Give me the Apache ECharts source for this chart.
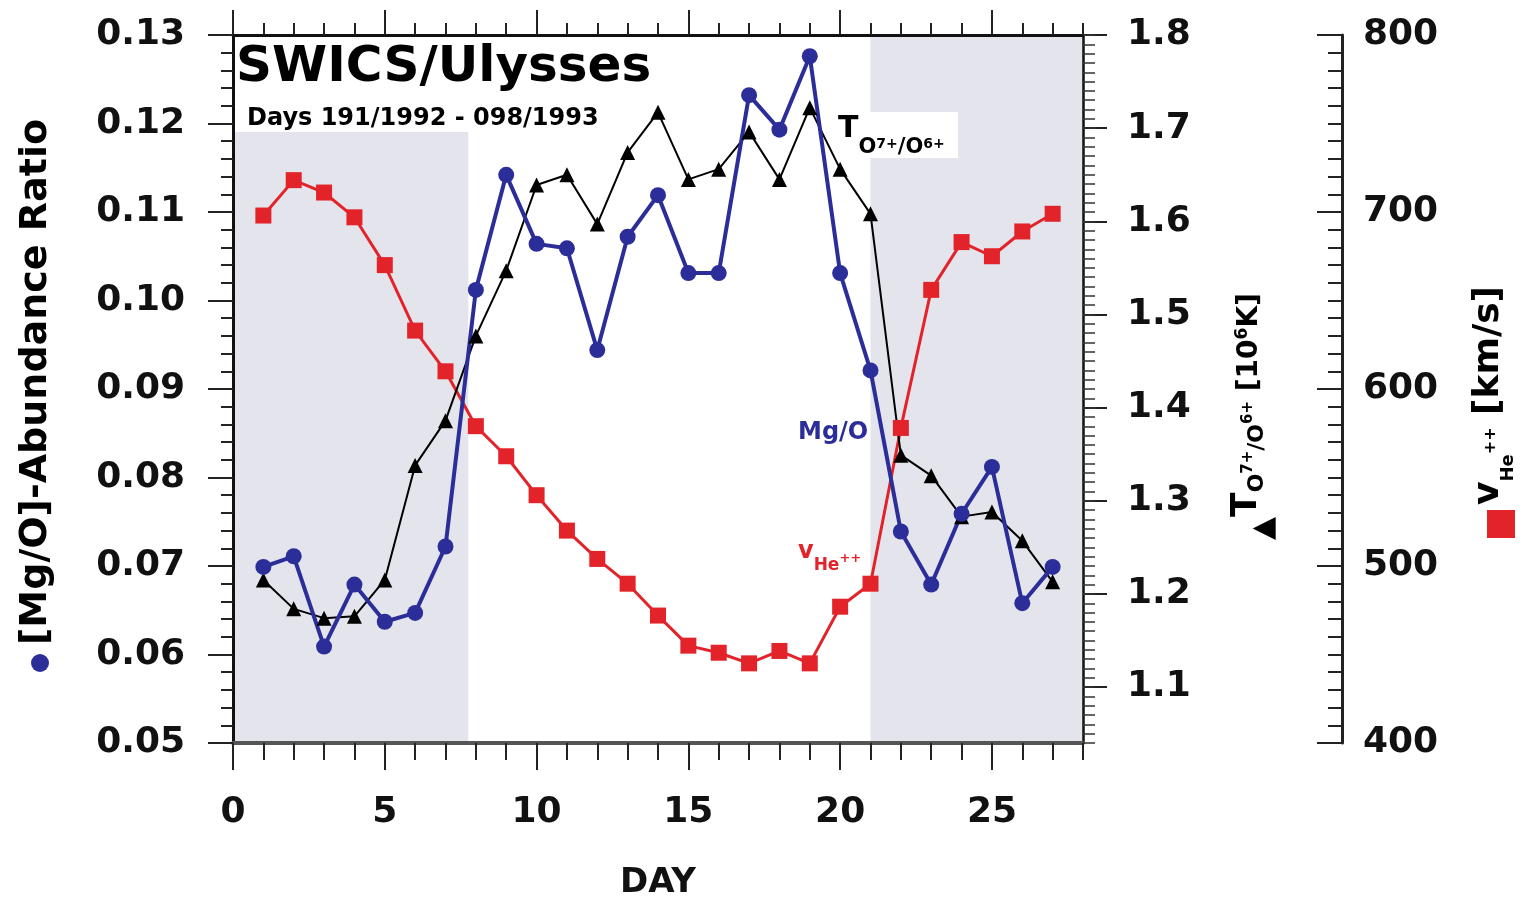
<!DOCTYPE html>
<html>
<head>
<meta charset="utf-8">
<script src="https://cdn.jsdelivr.net/npm/echarts@6/dist/echarts.min.js"></script>
<style>
  html, body { margin: 0; padding: 0; background: #fff; }
  #chart { width: 1527px; height: 897px; }
</style>
</head>
<body>
<div id="chart"></div>
<script>
// SWICS/Ulysses: Mg/O abundance, O7+/O6+ freeze-in temperature and He++ speed over 27 days
const days = [1, 2, 3, 4, 5, 6, 7, 8, 9, 10, 11, 12, 13, 14, 15, 16, 17, 18, 19, 20, 21, 22, 23, 24, 25, 26, 27];
const mgO = [0.0699, 0.0711, 0.0609, 0.0679, 0.0637, 0.0647, 0.0722, 0.1012, 0.1142, 0.1064, 0.1059, 0.0944, 0.1072, 0.1119,
             0.1031, 0.1031, 0.1232, 0.1193, 0.1276, 0.1031, 0.0921, 0.0739, 0.0679, 0.0759, 0.0812, 0.0658, 0.0699];
const tempO = [1.215, 1.184, 1.174, 1.176, 1.215, 1.338, 1.386, 1.477, 1.547, 1.639, 1.650, 1.597, 1.674, 1.717,
               1.645, 1.656, 1.696, 1.645, 1.722, 1.656, 1.608, 1.349, 1.327, 1.283, 1.288, 1.257, 1.213];
const speedHe = [698, 718, 711, 697, 670, 633, 610, 579, 562, 540, 520, 504, 490, 472,
                 455, 451, 445, 452, 445, 477, 490, 578, 656, 683, 675, 689, 699];

// shaded intervals (fast wind) in days
const shadeBands = [[0, 7.75], [21, 28]];

// tick labels
const dayLabels = [0, 5, 10, 15, 20, 25];
const tempLabels = [1.1, 1.2, 1.3, 1.4, 1.5, 1.6, 1.7, 1.8];

const FONT = '"DejaVu Sans", sans-serif';
const BLUE = '#2b2e98';
const RED = '#e3232a';
const SHADE = '#e4e5ec';

const measureCtx = document.createElement('canvas').getContext('2d');

// A run of text pieces laid side by side along a shared baseline (dy shifts for sub/superscripts)
function textRun(x, y, rotated, parts, z) {
  let cx = 0;
  const children = parts.map(p => {
    const font = 'bold ' + p.size + 'px ' + FONT;
    measureCtx.font = font;
    const w = measureCtx.measureText(p.text).width;
    const el = {
      type: 'text', x: cx, y: (p.dy || 0) - 0.36 * p.size, z: z || 10,
      style: {
        text: p.text, font: font, fill: p.color || '#000',
        align: 'left', verticalAlign: 'middle', textAlign: 'left', textVerticalAlign: 'middle'
      }
    };
    cx += w;
    return el;
  });
  return { type: 'group', x: x, y: y, rotation: rotated ? Math.PI / 2 : 0, z: z || 10, children: children };
}

const labelStyle = { fontFamily: FONT, fontWeight: 'bold', fontSize: 36, color: '#111' };
const tickStyle = { color: '#222', width: 2 };
const noLine = { show: false, onZero: false };

const chart = echarts.init(document.getElementById('chart'), null, { renderer: 'canvas' });

const option = {
  animation: false,
  backgroundColor: '#fff',
  textStyle: { fontFamily: FONT },
  grid: { left: 233, right: 444, top: 35, bottom: 154, containLabel: false, outerBoundsMode: 'none' },
  xAxis: [
    { // bottom, labelled
      type: 'value', position: 'bottom', min: 0, max: 28, z: 6,
      axisLine: { show: true, onZero: false, lineStyle: { color: '#555', width: 4 } },
      axisTick: { show: true, customValues: dayLabels, length: 27, lineStyle: tickStyle },
      axisLabel: Object.assign({ customValues: dayLabels, margin: 52 }, labelStyle),
      splitLine: { show: false },
      name: 'DAY', nameLocation: 'middle', nameGap: 123,
      nameTextStyle: { fontFamily: FONT, fontWeight: 'bold', fontSize: 34, color: '#111' }
    },
    { // bottom, daily minor ticks
      type: 'value', position: 'bottom', min: 0, max: 28, interval: 1, z: 6,
      axisLine: noLine,
      axisTick: { show: true, length: 17, lineStyle: tickStyle },
      axisLabel: { show: false }, splitLine: { show: false }
    },
    { // top
      type: 'value', position: 'top', min: 0, max: 28, z: 6,
      axisLine: { show: true, onZero: false, lineStyle: { color: '#111', width: 3 } },
      axisTick: { show: true, customValues: dayLabels, length: 25, lineStyle: tickStyle },
      axisLabel: { show: false }, splitLine: { show: false }
    },
    {
      type: 'value', position: 'top', min: 0, max: 28, interval: 1, z: 6,
      axisLine: noLine,
      axisTick: { show: true, length: 12, lineStyle: tickStyle },
      axisLabel: { show: false }, splitLine: { show: false }
    }
  ],
  yAxis: [
    { // 0: Mg/O ratio
      type: 'value', position: 'left', min: 0.05, max: 0.13, interval: 0.01, z: 6,
      axisLine: { show: true, onZero: false, lineStyle: { color: '#111', width: 3 } },
      axisTick: { show: true, length: 25, lineStyle: tickStyle },
      axisLabel: Object.assign({ margin: 48, formatter: v => v.toFixed(2) }, labelStyle),
      splitLine: { show: false }
    },
    { // 1: Mg/O minor ticks
      type: 'value', position: 'left', min: 0.05, max: 0.13, interval: 0.002, z: 6,
      axisLine: noLine,
      axisTick: { show: true, length: 12, lineStyle: tickStyle },
      axisLabel: { show: false }, splitLine: { show: false }
    },
    { // 2: O7+/O6+ temperature
      type: 'value', position: 'right', min: 1.04, max: 1.8, z: 6,
      axisLine: { show: true, onZero: false, lineStyle: { color: '#111', width: 2.5 } },
      axisTick: { show: true, customValues: tempLabels, length: 24, lineStyle: tickStyle },
      axisLabel: Object.assign({ customValues: tempLabels, margin: 44, formatter: v => v.toFixed(1) }, labelStyle),
      splitLine: { show: false }
    },
    { // 3: temperature minor ticks
      type: 'value', position: 'right', min: 1.04, max: 1.8, interval: 0.01, z: 6,
      axisLine: noLine,
      axisTick: { show: true, length: 12, lineStyle: { color: '#333', width: 1.5 } },
      axisLabel: { show: false }, splitLine: { show: false }
    },
    { // 4: He++ speed
      type: 'value', position: 'right', offset: 259, min: 400, max: 800, interval: 100, z: 6,
      axisLine: { show: true, onZero: false, lineStyle: { color: '#222', width: 3 } },
      axisTick: { show: true, inside: true, length: 25, lineStyle: tickStyle },
      axisLabel: Object.assign({ margin: 21 }, labelStyle),
      splitLine: { show: false }
    },
    { // 5: speed minor ticks
      type: 'value', position: 'right', offset: 259, min: 400, max: 800, interval: 10, z: 6,
      axisLine: noLine,
      axisTick: { show: true, inside: true, length: 14, lineStyle: tickStyle },
      axisLabel: { show: false }, splitLine: { show: false }
    }
  ],
  series: [
    {
      name: 'shade', type: 'line', xAxisIndex: 0, yAxisIndex: 0, data: [], z: 1, silent: true,
      markArea: {
        silent: true,
        itemStyle: { color: SHADE },
        data: shadeBands.map(b => [{ xAxis: b[0] }, { xAxis: b[1] }])
      }
    },
    {
      name: 'vHe++', type: 'line', xAxisIndex: 0, yAxisIndex: 4, z: 5,
      data: days.map((d, i) => [d, speedHe[i]]),
      symbol: 'rect', symbolSize: 16,
      itemStyle: { color: RED }, lineStyle: { color: RED, width: 3 }
    },
    {
      name: 'T O7+/O6+', type: 'line', xAxisIndex: 0, yAxisIndex: 2, z: 5,
      data: days.map((d, i) => [d, tempO[i]]),
      symbol: 'triangle', symbolSize: 15,
      itemStyle: { color: '#000' }, lineStyle: { color: '#000', width: 2 }
    },
    {
      name: 'Mg/O', type: 'line', xAxisIndex: 0, yAxisIndex: 0, z: 5,
      data: days.map((d, i) => [d, mgO[i]]),
      symbol: 'circle', symbolSize: 16,
      itemStyle: { color: BLUE }, lineStyle: { color: BLUE, width: 4 }
    }
  ],
  graphic: [
    // white panels behind the title and the temperature annotation
    { type: 'rect', z: 3, shape: { x: 234, y: 37, width: 404, height: 95 }, style: { fill: '#fff' } },
    { type: 'rect', z: 3, shape: { x: 833, y: 112, width: 125, height: 46 }, style: { fill: '#fff' } },

    textRun(236, 86, false, [{ text: 'SWICS/Ulysses', size: 50 }]),
    textRun(247, 127, false, [{ text: 'Days 191/1992 - 098/1993', size: 24 }]),

    // in-plot series annotations
    textRun(838, 140, false, [
      { text: 'T', size: 30 },
      { text: 'O', size: 21, dy: 15 },
      { text: '7+', size: 14, dy: 9 },
      { text: '/O', size: 21, dy: 15 },
      { text: '6+', size: 14, dy: 9 }
    ]),
    textRun(798, 441, false, [{ text: 'Mg/O', size: 24, color: BLUE }]),
    textRun(798, 560, false, [
      { text: 'v', size: 24, color: RED },
      { text: 'He', size: 17, dy: 12, color: RED },
      { text: '++', size: 13, dy: 3, color: RED }
    ]),

    // left axis title with its marker
    { type: 'circle', z: 10, shape: { cx: 40, cy: 663, r: 9 }, style: { fill: BLUE } },
    textRun(50, 645, true, [{ text: '[Mg/O]-Abundance Ratio', size: 38 }]),

    // temperature axis title
    textRun(1260, 540, true, [
      { text: '\u25B2', size: 30, dy: 15 },
      { text: 'T', size: 36 },
      { text: 'O', size: 22, dy: 5 },
      { text: '7+', size: 15, dy: -6 },
      { text: '/O', size: 22, dy: 5 },
      { text: '6+', size: 15, dy: -6 },
      { text: ' [10', size: 28 },
      { text: '6', size: 17, dy: -11 },
      { text: 'K]', size: 28 }
    ]),

    // speed axis title with its marker
    { type: 'rect', z: 10, shape: { x: 1487, y: 510, width: 28, height: 28 }, style: { fill: RED } },
    textRun(1502, 505, true, [
      { text: 'v', size: 36 },
      { text: 'He', size: 18, dy: 13 },
      { text: '++', size: 16, dy: -5 },
      { text: ' [km/s]', size: 36 }
    ])
  ]
};

chart.setOption(option);
</script>
</body>
</html>
